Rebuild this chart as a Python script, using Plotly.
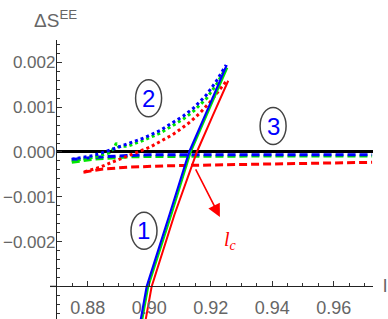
import plotly.graph_objects as go

# ---- data ----
# solid lines (1)
x_s_blue = [0.8971, 0.8992, 0.9066, 0.9130, 0.9192, 0.9252]
y_s_blue = [-0.0038, -0.0030, -0.0014, 0.0, 0.00098, 0.00194]
x_s_green = [0.8976, 0.8997, 0.9072, 0.9135, 0.9197, 0.9254]
y_s_green = [-0.0038, -0.0030, -0.0014, 0.0, 0.00098, 0.00188]
x_s_red = [0.8987, 0.9008, 0.9082, 0.9155, 0.9206, 0.9257]
y_s_red = [-0.0038, -0.0030, -0.0014, 0.0, 0.0008, 0.00159]

# dotted lines (2)
x_d_blue = [0.8748, 0.8818, 0.8872, 0.8930, 0.8981, 0.9035, 0.9068, 0.9110, 0.9144, 0.9187, 0.9220, 0.9250]
y_d_blue = [-0.00016, -0.00008, 0.00004, 0.00018, 0.00031, 0.00048, 0.00062, 0.00080, 0.00098, 0.00128, 0.00160, 0.00194]
x_d_green = [0.8748, 0.8818, 0.8870, 0.8885, 0.8893, 0.8900, 0.8930, 0.8981, 0.9035, 0.9068, 0.9110, 0.9144, 0.9187, 0.9220, 0.9248]
y_d_green = [-0.00020, -0.00012, -0.00002, 0.00008, 0.00020, 0.00012, 0.00013, 0.00026, 0.00042, 0.00055, 0.00073, 0.00091, 0.00120, 0.00152, 0.00186]
x_d_red = [0.8790, 0.8840, 0.8882, 0.8928, 0.8970, 0.9003, 0.9040, 0.9077, 0.9100, 0.9135, 0.9165, 0.9200, 0.9230, 0.9252]
y_d_red = [-0.00044, -0.00034, -0.00022, -0.00010, 0.00001, 0.00011, 0.00025, 0.00039, 0.00050, 0.00068, 0.00087, 0.00113, 0.00140, 0.00159]

# dashed lines (3)
x_h_blue = [0.8748, 0.8818, 0.8928, 0.9000, 0.9200, 0.9400, 0.9725]
y_h_blue = [-0.00017, -0.00012, -0.00008, -0.00006, -0.00006, -0.00006, -0.00006]
x_h_green = [0.8748, 0.8818, 0.8928, 0.9000, 0.9400, 0.9725]
y_h_green = [-0.00023, -0.00016, -0.00011, -0.00010, -0.00009, -0.00009]
x_h_red = [0.8786, 0.8850, 0.8930, 0.9050, 0.9200, 0.9400, 0.9725]
y_h_red = [-0.00045, -0.00038, -0.00034, -0.00031, -0.00029, -0.00027, -0.00023]

x_ticks = [0.88, 0.90, 0.92, 0.94, 0.96]
y_ticks = [-0.002, -0.001, 0.0, 0.001, 0.002]

labels = ["1", "2", "3"]
label_x = [0.8983, 0.8998, 0.9403]
label_y = [-0.00176, 0.00120, 0.00058]

BLUE, GREEN, RED = "#0000ff", "#00e600", "#ff0000"
FONT = "Liberation Sans Narrow, Liberation Sans, Arial, sans-serif"
GRAY = "#666666"

fig = go.Figure()

def add(x, y, color, width, dash):
    fig.add_trace(go.Scatter(x=x, y=y, mode="lines",
                             line=dict(color=color, width=width, dash=dash),
                             showlegend=False, hoverinfo="skip"))

for (x, y, c) in [(x_h_red, y_h_red, RED), (x_h_green, y_h_green, GREEN), (x_h_blue, y_h_blue, BLUE)]:
    add(x, y, c, 3, "8px,4px")
for (x, y, c) in [(x_d_red, y_d_red, RED), (x_d_green, y_d_green, GREEN), (x_d_blue, y_d_blue, BLUE)]:
    add(x, y, c, 3, "3px,3px")
for (x, y, c, w) in [(x_s_red, y_s_red, RED, 2), (x_s_green, y_s_green, GREEN, 2), (x_s_blue, y_s_blue, BLUE, 2.2)]:
    add(x, y, c, w, "solid")

Y0, Y1 = -0.003728, 0.0025
X0, X1 = 0.87, 0.9728
xpos = (-0.003 - Y0) / (Y1 - Y0)

fig.update_layout(
    width=388, height=319,
    margin=dict(l=57, r=15, t=40, b=0, pad=0, autoexpand=False),
    plot_bgcolor="white", paper_bgcolor="white",
    xaxis=dict(range=[X0, X1], anchor="free", position=xpos, automargin=False,
               tickvals=x_ticks, tickformat=".2f",
               ticks="inside", ticklen=5, tickcolor="#333", tickwidth=1,
               minor=dict(dtick=0.005, tick0=0.88, ticks="inside", ticklen=3, tickcolor="#333"),
               showline=True, linecolor="#222", linewidth=1.3,
               showgrid=False, zeroline=False, ticklabelstandoff=5,
               tickfont=dict(family=FONT, size=18, color=GRAY)),
    yaxis=dict(range=[Y0, Y1], tickvals=y_ticks, tickformat=".3f", automargin=False,
               ticks="inside", ticklen=5, tickcolor="#333", tickwidth=1,
               minor=dict(dtick=0.0002, tick0=0, ticks="inside", ticklen=3, tickcolor="#333"),
               showline=True, linecolor="#222", linewidth=1.3,
               showgrid=False, zeroline=True, zerolinecolor="black", zerolinewidth=3,
               ticklabelstandoff=-3,
               tickfont=dict(family=FONT, size=17, color=GRAY)),
)

# extend x-axis line slightly left of the y-axis
fig.add_shape(type="line", xref="paper", yref="y", x0=-7/316, x1=0, y0=-0.003, y1=-0.003,
              line=dict(color="#222", width=1.3))

# circled labels
for t, lx, ly in zip(labels, label_x, label_y):
    fig.add_shape(type="circle", xref="x", yref="y", xsizemode="pixel", ysizemode="pixel",
                  xanchor=lx, yanchor=ly, x0=-13, x1=13, y0=-18.5, y1=18.5,
                  line=dict(color="#444", width=1.5))
    fig.add_annotation(x=lx, y=ly, xref="x", yref="y", text=t, showarrow=False,
                       font=dict(family=FONT, size=24, color=BLUE))

# l_c label with arrow
fig.add_annotation(x=0.9230, y=-0.00145, xref="x", yref="y", text="", showarrow=True,
                   ax=-25, ay=-49, arrowcolor=RED, arrowwidth=1.6, arrowhead=2, arrowsize=1.6)
fig.add_annotation(x=0.9265, y=-0.00198, xref="x", yref="y",
                   text="<i>l</i><sub><i>c</i></sub>", showarrow=False,
                   font=dict(family="Liberation Serif, serif", size=20, color=RED))

# axis titles
fig.add_annotation(xref="paper", yref="paper", x=-0.006, y=(319 - 19) / 279,
                   text="ΔS<sup>EE</sup>", showarrow=False, xanchor="center", yanchor="middle",
                   font=dict(family=FONT, size=19, color=GRAY))
fig.add_annotation(xref="paper", yref="paper", x=(385 - 57) / 316, y=(319 - 285) / 279,
                   text="l", showarrow=False, xanchor="center", yanchor="middle",
                   font=dict(family=FONT, size=19, color=GRAY))

fig.write_html("out.html", config={"displayModeBar": False},
               post_script="document.body.style.margin='0';")
